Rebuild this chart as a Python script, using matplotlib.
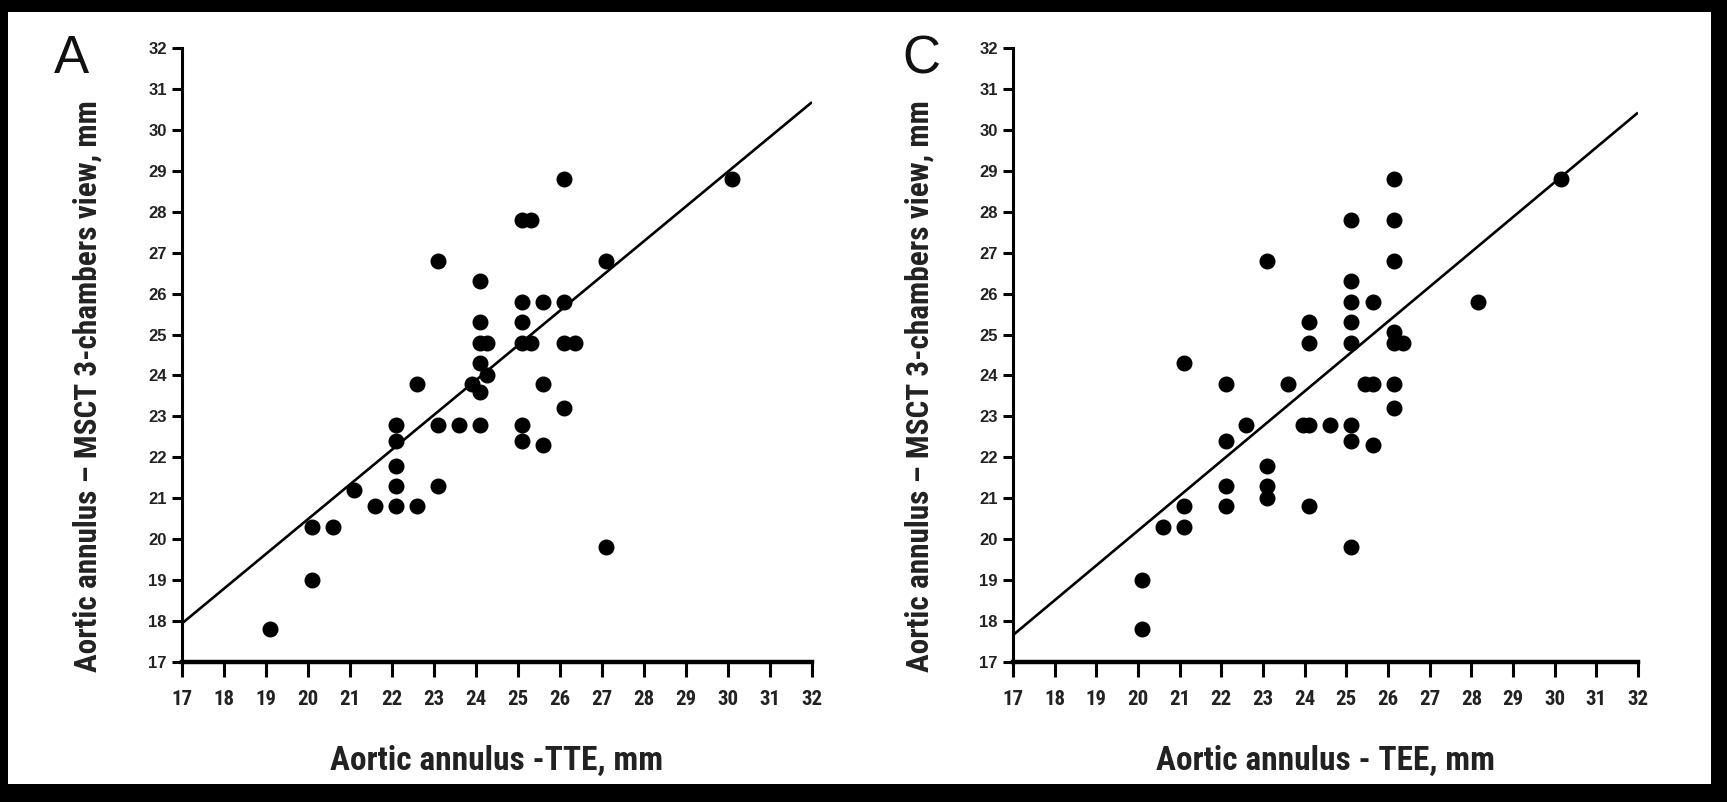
import matplotlib
matplotlib.use("Agg")
import matplotlib.pyplot as plt
import numpy as np
from matplotlib import font_manager
from matplotlib.font_manager import FontProperties
from matplotlib.patches import Rectangle

# Panel A: aortic annulus by TTE vs MSCT 3-chamber view (mm)
tte_x = [19.1, 20.1, 20.1, 20.6, 21.1, 21.6, 22.1, 22.1, 22.1, 22.1, 22.1,
         22.6, 22.6, 23.1, 23.1, 23.6, 23.1, 24.1, 23.9, 24.1, 24.1, 24.25,
         24.1, 24.25, 24.1, 24.1, 25.1, 25.3, 25.1, 25.1, 25.1, 25.3, 25.1,
         25.1, 25.6, 25.6, 25.6, 26.1, 26.1, 26.1, 26.35, 26.1, 27.1, 27.1, 30.1]
tte_y = [17.8, 20.3, 19.0, 20.3, 21.2, 20.8, 20.8, 21.3, 21.8, 22.4, 22.8,
         20.8, 23.8, 22.8, 21.3, 22.8, 26.8, 22.8, 23.8, 23.6, 24.3, 24.0,
         24.8, 24.8, 25.3, 26.3, 24.8, 24.8, 25.3, 25.8, 27.8, 27.8, 22.8,
         22.4, 25.8, 23.8, 22.3, 28.8, 25.8, 24.8, 24.8, 23.2, 26.8, 19.8, 28.8]

# Panel C: aortic annulus by TEE vs MSCT 3-chamber view (mm)
tee_x = [20.1, 20.1, 20.6, 21.1, 21.1, 21.1, 22.1, 22.1, 22.1, 22.1, 22.6,
         23.1, 23.1, 23.1, 23.1, 23.6, 23.95, 24.1, 24.1, 24.1, 24.1, 24.6,
         25.1, 25.1, 25.1, 25.1, 25.1, 25.1, 25.1, 25.1, 25.45, 25.65, 25.65,
         25.65, 26.15, 26.15, 26.15, 26.15, 26.35, 26.15, 26.15, 26.15, 28.15, 30.15]
tee_y = [17.8, 19.0, 20.3, 20.3, 20.8, 24.3, 20.8, 21.3, 22.4, 23.8, 22.8,
         21.8, 21.3, 21.0, 26.8, 23.8, 22.8, 22.8, 20.8, 24.8, 25.3, 22.8,
         22.8, 22.4, 19.8, 24.8, 25.3, 25.8, 26.3, 27.8, 23.8, 23.8, 22.3,
         25.8, 23.8, 23.2, 24.8, 25.05, 24.8, 26.8, 27.8, 28.8, 25.8, 28.8]

# regression lines (slope, intercept)
tte_fit = (0.849, 3.51)
tee_fit = (0.851, 3.19)

ticks = list(range(17, 33))
panel_letters = ["A", "C"]
x_labels = ["Aortic annulus -TTE, mm", "Aortic annulus - TEE, mm"]
y_label = "Aortic annulus \u2013 MSCT 3-chambers view, mm"


def narrow_bold():
    # look for a condensed bold face for the axis text
    cands = []
    for f in font_manager.fontManager.ttflist:
        w = f.weight if isinstance(f.weight, int) else 700 if "bold" in str(f.weight) else 400
        narrowish = ("Narrow" in f.name or "Condensed" in f.name
                     or str(f.stretch) in ("condensed", "semi-condensed", "extra-condensed"))
        if narrowish and w >= 600 and f.style == "normal":
            rank = 0 if "Liberation" in f.name else 1 if "Roboto" in f.name else 2
            cands.append((rank, f.fname))
    if cands:
        return sorted(cands)[0][1]
    return None


narrow_file = narrow_bold()


def axis_font(size):
    if narrow_file:
        return FontProperties(fname=narrow_file, size=size)
    return FontProperties(family="Liberation Sans", weight="bold", size=size * 0.9)


W, H = 1727, 802
fig = plt.figure(figsize=(W / 100, H / 100), dpi=100, facecolor="black")
# white page inside the dark frame
fig.add_artist(Rectangle((8 / W, 18 / H), (1711 - 8) / W, (790 - 18) / H,
                         transform=fig.transFigure, facecolor="white",
                         edgecolor="none", zorder=-10))

# axes boxes in pixels: left, right, top(y=32), bottom(y=17)
boxes = [(182, 812, 48, 662), (1013, 1638, 48, 662)]
panels = [(tte_x, tte_y, tte_fit), (tee_x, tee_y, tee_fit)]
letter_x = [-0.175, -0.146]

for i, ((l, r, t, b), (xs, ys, fit)) in enumerate(zip(boxes, panels)):
    ax = fig.add_axes([l / W, 1 - b / H, (r - l) / W, (b - t) / H])
    ax.set_facecolor("none")
    ax.set_xlim(17, 32)
    ax.set_ylim(17, 32)

    line_x = np.array([ticks[0], ticks[-1]], dtype=float)
    ax.plot(line_x, fit[0] * line_x + fit[1], color="black", lw=1.9,
            solid_capstyle="butt", zorder=2)
    ax.plot(xs, ys, "o", color="black", ms=10.5, mec="black", zorder=3)

    for side in ("top", "right"):
        ax.spines[side].set_visible(False)
    ax.spines["left"].set_linewidth(2.2)
    ax.spines["bottom"].set_linewidth(3.2)

    ax.set_xticks(ticks)
    ax.set_yticks(ticks)
    ax.tick_params(axis="x", direction="out", length=11, width=2.2, pad=9)
    ax.tick_params(axis="y", direction="out", length=7, width=2.2, pad=4)
    for lab in ax.get_xticklabels():
        lab.set_fontproperties(axis_font(15))
        lab.set_color("#222222")
    for lab in ax.get_yticklabels():
        lab.set_fontfamily("Liberation Sans")
        lab.set_fontweight("bold")
        lab.set_fontsize(12)
        lab.set_color("#222222")

    ax.set_xlabel(x_labels[i], fontproperties=axis_font(24), color="#222222")
    ax.xaxis.set_label_coords(0.5, -0.135)
    ax.set_ylabel(y_label, fontproperties=axis_font(22.5), color="#222222")
    ax.yaxis.set_label_coords(-0.126, 0.45)

    ax.text(letter_x[i], 0.982, panel_letters[i], transform=ax.transAxes,
            fontfamily="Liberation Sans", fontsize=38, ha="center", va="center",
            color="#111111")

fig.savefig("out.png", dpi=100, facecolor=fig.get_facecolor())
